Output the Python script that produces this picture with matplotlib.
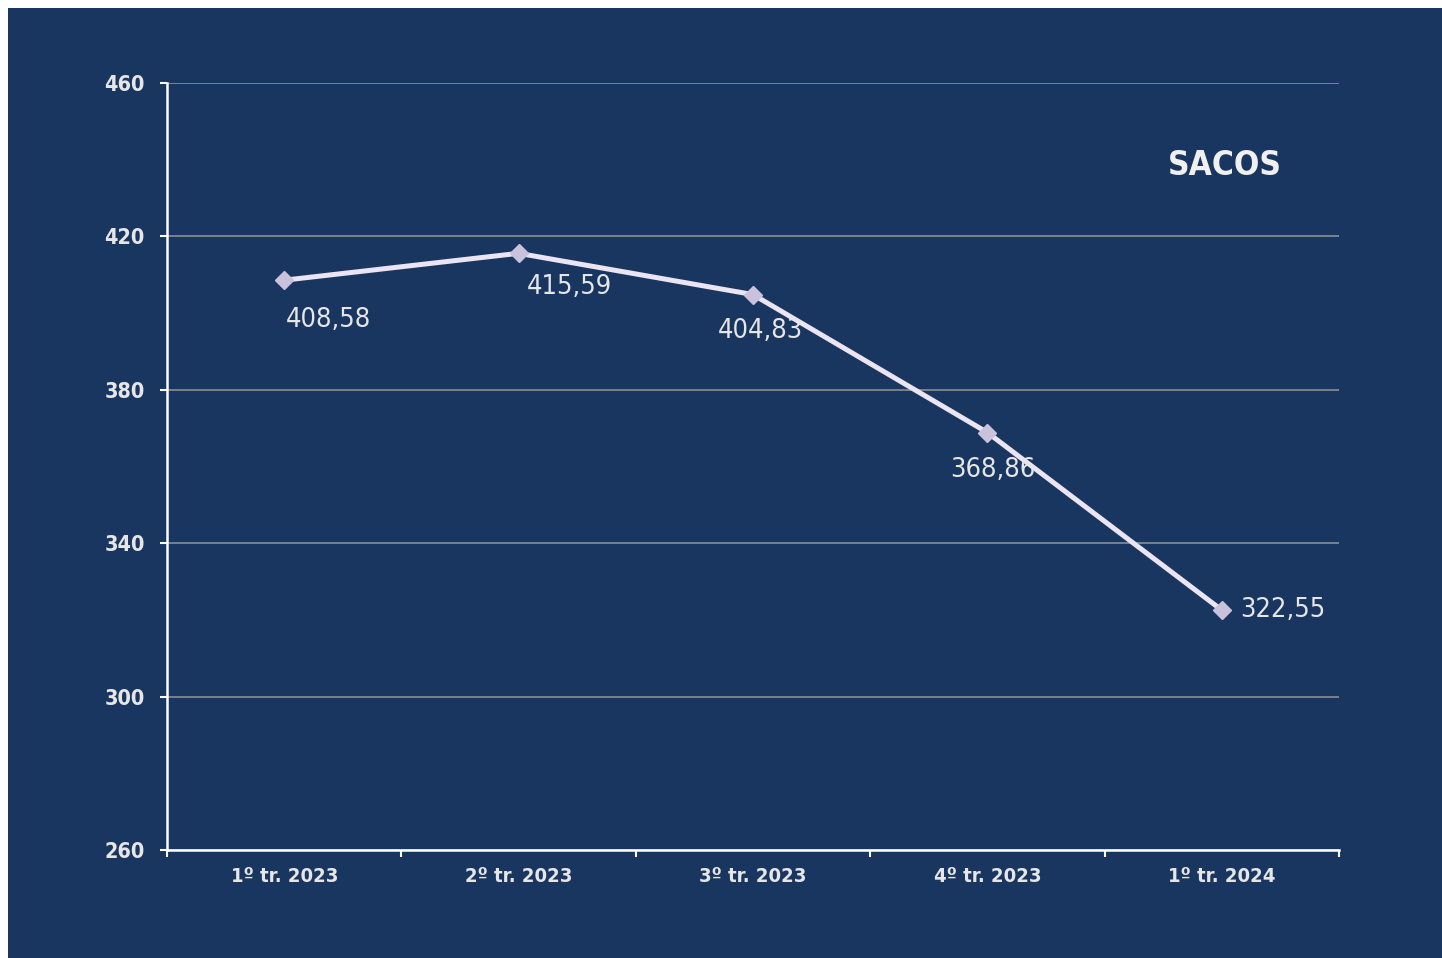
import matplotlib
matplotlib.use("Agg")
import matplotlib.pyplot as plt
from matplotlib.patches import Rectangle
import numpy as np

plt.rcParams['font.family'] = ['DejaVu Sans']
plt.rcParams['font.stretch'] = 'condensed'

categories = ["1º tr. 2023", "2º tr. 2023", "3º tr. 2023", "4º tr. 2023", "1º tr. 2024"]
values = [408.58, 415.59, 404.83, 368.86, 322.55]
labels = ["408,58", "415,59", "404,83", "368,86", "322,55"]
y_ticks = [260, 300, 340, 380, 420, 460]

# label offsets in points (dx, dy) and horizontal alignment
label_offsets = [(1, -29, "left"), (6, -24, "left"), (5, -26, "center"),
                 (4, -27, "center"), (13, 0, "left")]

bg = "#193660"
txt = "#e6e6e6"

fig = plt.figure(figsize=(14.42, 9.58), dpi=100)
fig.patch.set_facecolor("white")
fig.patches.append(Rectangle((8 / 1442, 0), 1, 1 - 8 / 958, transform=fig.transFigure,
                             facecolor=bg, edgecolor="none", zorder=-10))

ax = fig.add_axes([167 / 1442, 1 - 850 / 958, (1339 - 167) / 1442, (850 - 83) / 958])
ax.set_facecolor(bg)

x = np.arange(len(values)) + 0.5
ax.plot(x, values, color="#ebe4f2", lw=3.6, zorder=3,
        marker="D", markersize=9, markerfacecolor="#c9c2dc", markeredgecolor="#c9c2dc")

for xi, v, lab, (dx, dy, ha) in zip(x, values, labels, label_offsets):
    ax.annotate(lab, (xi, v), xytext=(dx, dy), textcoords="offset points",
                ha=ha, va="center", color=txt, fontsize=19.5, zorder=4)

ax.set_xlim(0, len(values))
ax.set_ylim(260, 460)
ax.set_yticks(y_ticks)
ax.set_yticklabels([str(t) for t in y_ticks], fontweight="bold", fontsize=15.5, color=txt)
ax.yaxis.grid(True, color="#8a8e96", lw=1.2)
ax.set_axisbelow(True)

ax.set_xticks(np.arange(len(values) + 1))
ax.set_xticklabels([])
ax.set_xticks(x, minor=True)
ax.set_xticklabels(categories, minor=True, fontweight="bold", fontsize=14.5, color=txt)
ax.tick_params(axis="x", which="minor", length=0, pad=12)
ax.tick_params(axis="x", which="major", length=5, width=1.5, color="white", direction="out")
ax.tick_params(axis="y", length=5, width=1.5, color="white", pad=11)

for s in ["top", "right"]:
    ax.spines[s].set_visible(False)
for s in ["left", "bottom"]:
    ax.spines[s].set_color("white")
    ax.spines[s].set_linewidth(1.8)

ax.text(0.903, 0.892, "SACOS", transform=ax.transAxes, ha="center", va="center",
        fontsize=24, fontweight="bold", color="#f0f0f0")

fig.savefig("out.png", dpi=100, facecolor=fig.get_facecolor())
